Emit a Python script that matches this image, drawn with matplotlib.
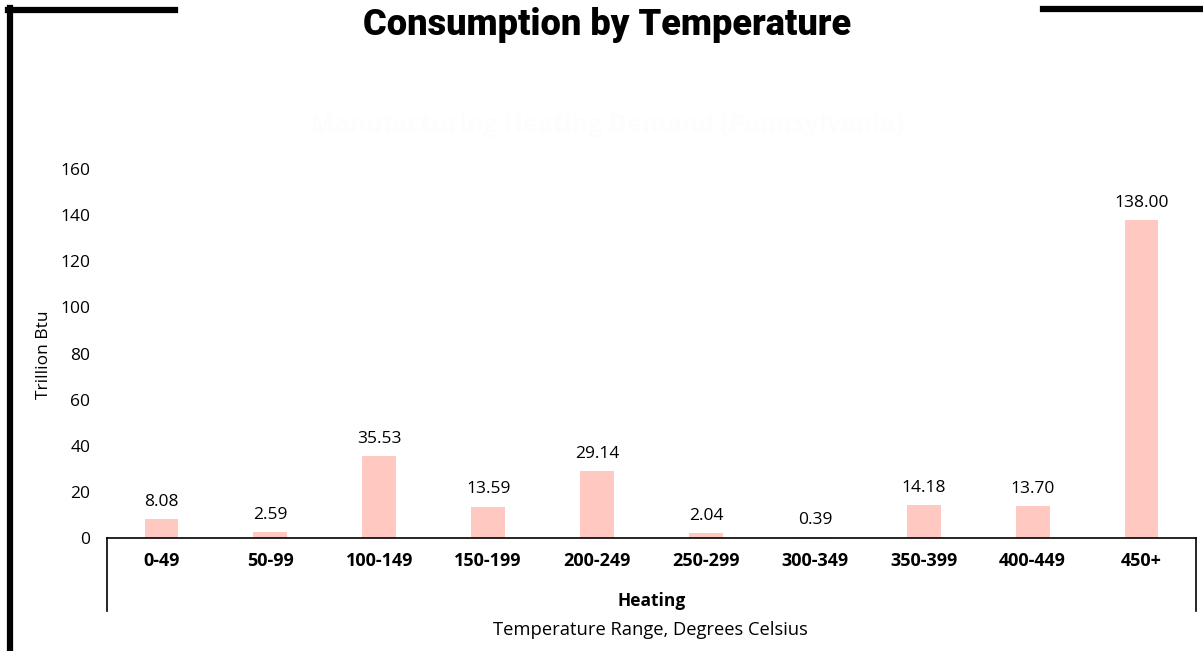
import matplotlib.pyplot as plt
from matplotlib.lines import Line2D

# heating consumption per temperature band
ranges = ['0-49', '50-99', '100-149', '150-199', '200-249',
          '250-299', '300-349', '350-399', '400-449', '450+']
consumption = [8.08, 2.59, 35.53, 13.59, 29.14, 2.04, 0.39, 14.18, 13.70, 138.00]
yticks = [0, 20, 40, 60, 80, 100, 120, 140, 160]

plt.rcParams['font.family'] = ['Open Sans', 'DejaVu Sans']

fig = plt.figure(figsize=(12.03, 6.51), dpi=100)
ax = fig.add_axes([107 / 1203, 1 - 538 / 651, (1196 - 107) / 1203, (538 - 169) / 651])

x = range(len(ranges))
ax.bar(x, consumption, width=0.31, color='#ffc8c1')
for i, v in zip(x, consumption):
    ax.text(i, v + 4, f'{v:.2f}', ha='center', va='bottom', fontsize=12.5)

ax.set_xlim(-0.5, len(ranges) - 0.5)
ax.set_ylim(0, 160)
ax.set_yticks(yticks)
ax.set_xticks(list(x))
ax.set_xticklabels(ranges, fontweight='bold', fontsize=13)
ax.tick_params(axis='both', length=0, labelsize=12.5)
ax.tick_params(axis='x', pad=10, labelsize=13)
ax.tick_params(axis='y', pad=12)
for side in ['top', 'right', 'left']:
    ax.spines[side].set_visible(False)
ax.spines['bottom'].set_linewidth(1.2)

# category group brackets under the axis
tr = ax.get_xaxis_transform()
for xe in [-0.5, len(ranges) - 0.5]:
    ax.plot([xe, xe], [0, -0.198], color='black', lw=1.2, transform=tr, clip_on=False)

ax.text(0.5, -0.17, 'Heating', transform=ax.transAxes, ha='center', va='center',
        fontweight='bold', fontsize=12.5)
fig.text(650 / 1203, 1 - 630 / 651, 'Temperature Range, Degrees Celsius',
         ha='center', va='center', fontsize=13.2)
fig.text(44 / 1203, 1 - 355 / 651, 'Trillion Btu', rotation=90,
         ha='center', va='center', fontsize=12.5)

fig.text(607 / 1203, 1 - 25 / 651, 'Consumption by Temperature', ha='center', va='center',
         fontsize=26, fontweight='black', family=['Roboto', 'DejaVu Sans'])
fig.text(607 / 1203, 1 - 125 / 651, 'Manufacturing Heating Demand (Pennsylvania)',
         ha='center', va='center', fontsize=18, fontweight='bold', color='#fdfdfd')

# frame corners
fig.add_artist(Line2D([10 / 1203, 10 / 1203], [0, 1 - 8 / 651], color='black', lw=4.5))
fig.add_artist(Line2D([8 / 1203, 175 / 1203], [1 - 10 / 651, 1 - 10 / 651], color='black', lw=4.5))
fig.add_artist(Line2D([1043 / 1203, 1], [1 - 9 / 651, 1 - 9 / 651], color='black', lw=4.5))

fig.savefig('out.png', dpi=100, facecolor='white')
